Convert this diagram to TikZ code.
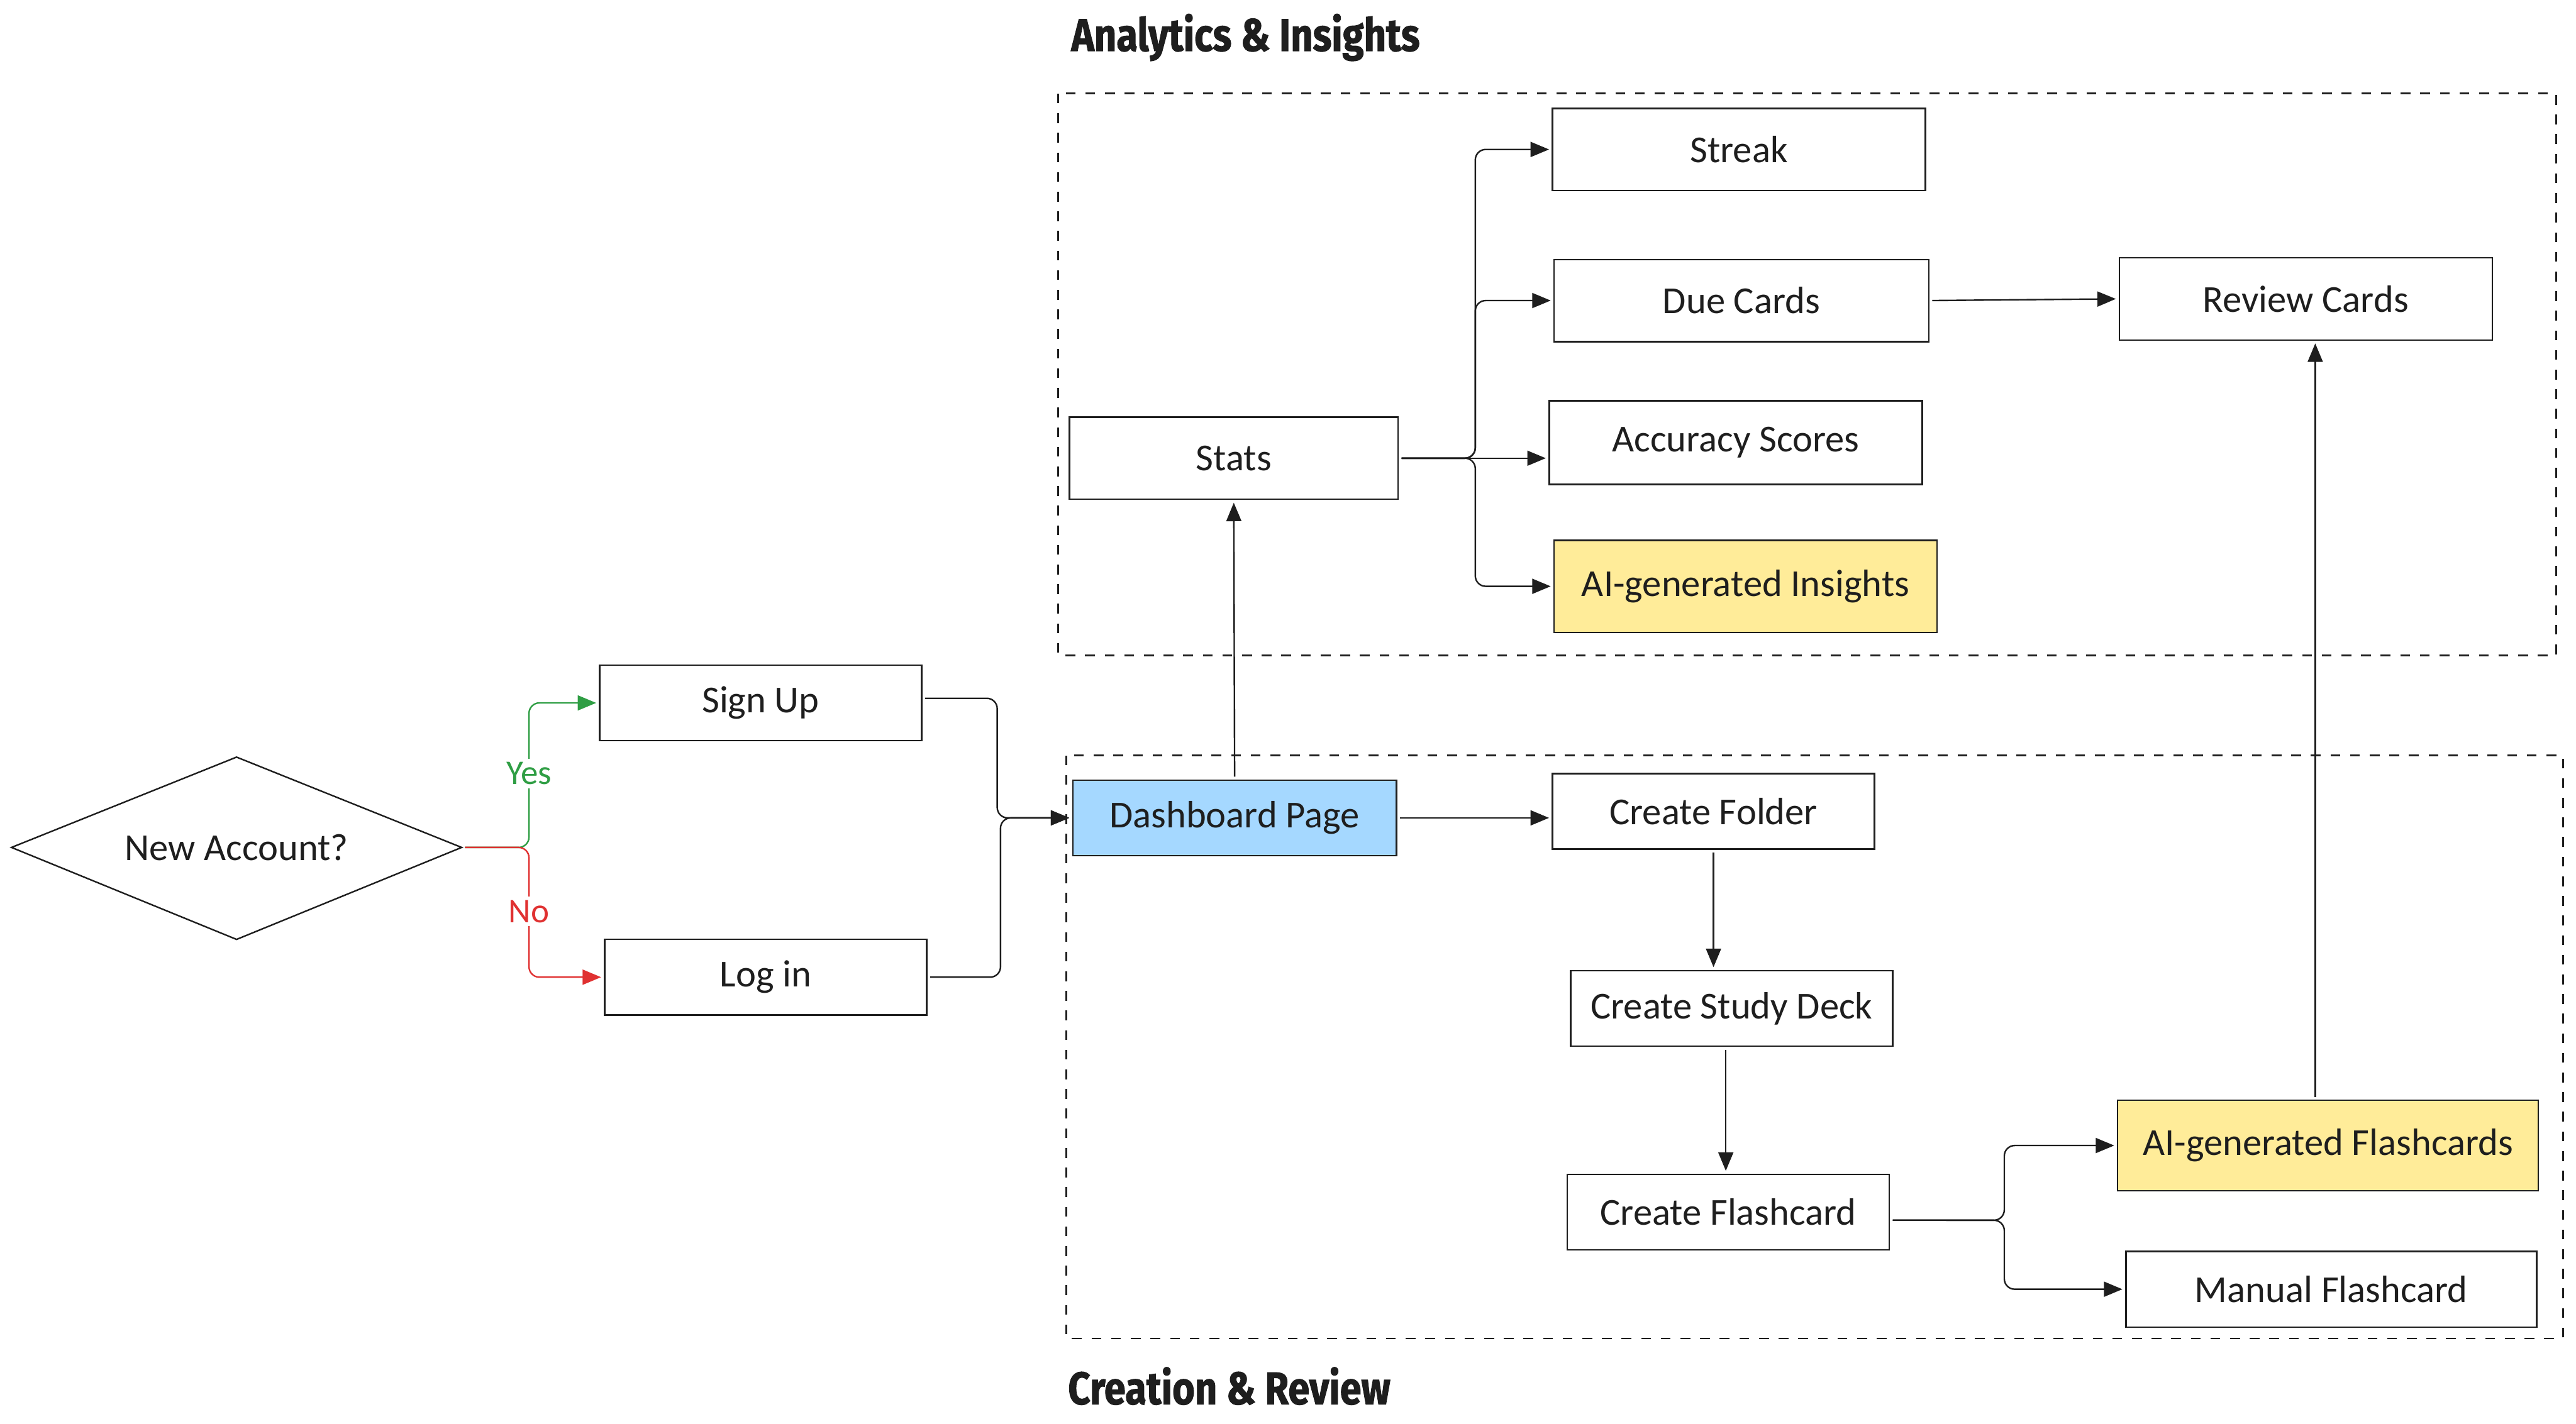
\documentclass[tikz,border=0pt]{standalone}
\usepackage{fontspec}
\setmainfont{Carlito}
\newfontfamily\titlefont[FakeBold=1.5]{Fira Sans}
\usetikzlibrary{arrows.meta}
\definecolor{ink}{HTML}{1E1E1E}
\definecolor{yesgreen}{HTML}{2F9E44}
\definecolor{nored}{HTML}{E03131}
\definecolor{dashblue}{HTML}{A5D8FF}
\definecolor{aiyellow}{HTML}{FFEC99}
\begin{document}
\begin{tikzpicture}[x=0.05cm,y=-0.05cm,
  box/.style={draw=ink, line width=1.3pt, rectangle, text=ink, outer sep=3pt,
    font=\fontsize{33}{40}\selectfont},
  grp/.style={draw=ink, line width=1.6pt, dash pattern=on 8.5pt off 8.5pt},
  ttl/.style={text=ink, anchor=base west, inner sep=0pt,
    font=\titlefont\bfseries\fontsize{33.5}{40}\selectfont},
  arr/.style={draw=ink, line width=1.3pt, rounded corners=9pt,
    -{Triangle[length=16pt,width=13pt]}},
  lbl/.style={fill=white, inner sep=3pt, font=\fontsize{30}{36}\selectfont}
]
\useasboundingbox[fill=white] (0,0) rectangle (1568,867);

% group frames
\draw[grp] (644,57) rectangle (1556,399);
\draw[grp] (649,460) rectangle (1560,815);
\node[ttl] (t1) at (652,31) {\scalebox{1}[1.18]{Analytics \& Insights}};
\node[ttl] (t2) at (650,855) {\scalebox{1}[1.18]{Creation \& Review}};

% decision
\draw[draw=ink, line width=1.3pt] (7,516) -- (144,461) -- (281,516) -- (144,572) -- cycle;
\node[text=ink, font=\fontsize{33}{40}\selectfont] (newacc) at (144,516) {New Account?};
\coordinate (dright) at (283,516);

% boxes
\node[box, minimum width=9.8cm, minimum height=2.3cm] (signup) at (463,428) {Sign Up};
\node[box, minimum width=9.8cm, minimum height=2.3cm] (login) at (466,595) {Log in};
\node[box, fill=dashblue, minimum width=9.85cm, minimum height=2.3cm] (dash) at (751.5,498) {Dashboard Page};
\node[box, minimum width=10cm, minimum height=2.5cm] (stats) at (751,279) {Stats};
\node[box, minimum width=11.35cm, minimum height=2.5cm] (streak) at (1058.5,91) {Streak};
\node[box, minimum width=11.4cm, minimum height=2.5cm] (due) at (1060,183) {Due Cards};
\node[box, minimum width=11.35cm, minimum height=2.55cm] (acc) at (1056.5,269.5) {Accuracy Scores};
\node[box, fill=aiyellow, minimum width=11.65cm, minimum height=2.8cm] (ins) at (1062.5,357) {AI-generated Insights};
\node[box, minimum width=11.35cm, minimum height=2.5cm] (review) at (1403.5,182) {Review Cards};
\node[box, minimum width=9.8cm, minimum height=2.3cm] (folder) at (1043,494) {Create Folder};
\node[box, minimum width=9.8cm, minimum height=2.3cm] (deck) at (1054,614) {Create Study Deck};
\node[box, minimum width=9.8cm, minimum height=2.3cm] (flash) at (1052,738) {Create Flashcard};
\node[box, fill=aiyellow, minimum width=12.8cm, minimum height=2.75cm] (aiflash) at (1417,697.5) {AI-generated Flashcards};
\node[box, minimum width=12.5cm, minimum height=2.3cm] (manual) at (1419,785) {Manual Flashcard};

% decision branches
\draw[arr, draw=yesgreen, -{Triangle[length=16pt,width=13pt,fill=yesgreen]}]
  (dright) -- (322,516) |- (signup.west);
\draw[arr, draw=nored, -{Triangle[length=16pt,width=13pt,fill=nored]}]
  (dright) -- (322,516) |- (login.west);
\node[lbl, text=yesgreen] (yes) at (322,471) {Yes};
\node[lbl, text=nored] (no) at (322,555) {No};

% to dashboard
\draw[arr] ([yshift=4pt]signup.east) -- ([yshift=4pt]signup.east -| 607,0) |- (dash.west);
\draw[arr] (login.east) -- (login.east -| 609,0) |- (dash.west);

% analytics
\draw[arr] (dash.north) -- (stats.south);
\draw[arr] (stats.east) -- (898,279) |- (streak.west);
\draw[arr] (stats.east) -- (898,279) |- (due.west);
\draw[arr] (stats.east) -- (acc.west |- stats.east);
\draw[arr] (stats.east) -- (898,279) |- (ins.west);
\draw[arr] (due.east) -- (review.west);

% creation
\draw[arr] (dash.east) -- (dash.east -| folder.west);
\draw[arr] (folder.south) -- (folder.south |- deck.north);
\draw[arr] ([xshift=-5pt]deck.south) -- ([xshift=-5pt]deck.south |- flash.north);
\draw[arr] ([yshift=-7pt]flash.east) -- (1220,743) |- (aiflash.west);
\draw[arr] ([yshift=-7pt]flash.east) -- (1220,743) |- (manual.west);
\draw[arr] ([xshift=-11pt]aiflash.north) -- ([xshift=-11pt]aiflash.north |- review.south);
\end{tikzpicture}
\end{document}
